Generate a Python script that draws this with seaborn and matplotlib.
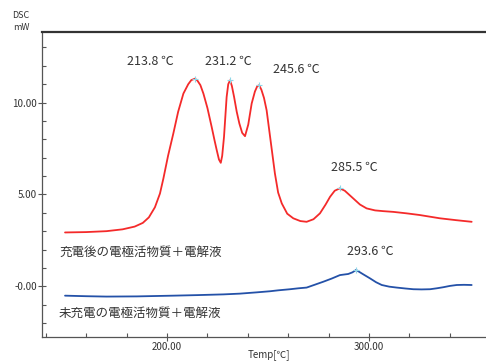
import matplotlib
matplotlib.use("Agg")
import matplotlib.pyplot as plt
import seaborn as sns
import pandas as pd
from matplotlib.ticker import MultipleLocator, FormatStrFormatter

# DSC curve after charging (temperature [℃], heat flow [mW])
charged_temp = [149.5, 160, 170, 178, 184, 188, 191, 194, 196.5, 198.2, 200.5, 203.1,
                205.5, 208.1, 210.5, 212.0, 213.8, 215.0, 216.5, 218, 220, 222.1,
                223.5, 224.6, 225.7, 226.6, 227.3, 228.2, 228.9, 229.5, 230.3, 231.2,
                232.1, 233.2, 234.5, 235.8, 237.2, 238.6, 240.2, 241.9, 243.5, 244.7,
                245.6, 246.7, 248, 249.3, 251.3, 253.4, 255, 256.8, 259.5, 262.5,
                266, 269.1, 272.5, 275.7, 278.5, 280.7, 283, 285.5, 288, 292.2,
                295.5, 298.8, 303, 307, 312, 318.6, 325, 335.1, 343, 350.8]
charged_dsc = [2.93, 2.95, 3.0, 3.1, 3.25, 3.45, 3.75, 4.3, 5.05, 5.87, 7.1, 8.31,
               9.5, 10.49, 11.0, 11.22, 11.30, 11.2, 10.95, 10.49, 9.7, 8.67,
               7.95, 7.41, 6.9, 6.72, 7.1, 8.13, 9.3, 10.3, 11.0, 11.21,
               10.9, 10.3, 9.5, 8.86, 8.35, 8.17, 8.8, 9.95, 10.6, 10.9,
               10.94, 10.7, 10.25, 9.58, 7.9, 6.14, 5.1, 4.51, 3.95, 3.70,
               3.55, 3.51, 3.65, 3.97, 4.45, 4.87, 5.2, 5.33, 5.2, 4.78,
               4.45, 4.24, 4.13, 4.09, 4.05, 3.97, 3.88, 3.70, 3.6, 3.51]

# DSC curve before charging
uncharged_temp = [149.5, 160, 170, 185, 203, 215, 228, 236, 244.4, 251, 255, 260.9,
                  265, 269.1, 273, 277.4, 281.5, 285.6, 289.7, 291.8, 293.6, 297,
                  300.5, 303.5, 306.3, 310, 313.7, 318, 321.9, 326, 330.2, 333.5,
                  336.8, 340, 343.4, 347, 350.8]
uncharged_dsc = [-0.51, -0.54, -0.56, -0.55, -0.51, -0.48, -0.44, -0.40, -0.33, -0.27,
                 -0.22, -0.16, -0.11, -0.07, 0.08, 0.25, 0.42, 0.61, 0.67, 0.76, 0.89,
                 0.66, 0.43, 0.22, 0.07, -0.02, -0.07, -0.12, -0.16, -0.17, -0.16,
                 -0.11, -0.05, 0.02, 0.07, 0.08, 0.07]

# Annotated peaks and where their labels sit (temperature, mW)
charged_peaks = [213.8, 231.2, 245.6, 285.5]
charged_peak_vals = [11.30, 11.21, 10.94, 5.33]
charged_label_pos = [(191.6, 12.24), (230.4, 12.21), (264.1, 11.81), (292.5, 6.45)]
uncharged_peaks = [293.6]
uncharged_peak_vals = [0.89]
uncharged_label_pos = [(300.4, 1.88)]

label_charged = "充電後の電極活物質＋電解液"
label_uncharged = "未充電の電極活物質＋電解液"

sns.set_style("white")
plt.rcParams["font.family"] = ["Noto Sans CJK JP", "DejaVu Sans"]

fig = plt.figure(figsize=(4.86, 3.61), dpi=100)
ax = fig.add_axes([42 / 486, 1 - 337 / 361, 1 - 42 / 486, (337 - 32) / 361])

df_c = pd.DataFrame({"temp": charged_temp, "dsc": charged_dsc})
df_u = pd.DataFrame({"temp": uncharged_temp, "dsc": uncharged_dsc})
sns.lineplot(data=df_c, x="temp", y="dsc", ax=ax, color="#f42a2a", lw=1.3, sort=False)
sns.lineplot(data=df_u, x="temp", y="dsc", ax=ax, color="#2451a8", lw=1.3, sort=False)

# peak markers and labels
ax.plot(charged_peaks, charged_peak_vals, "+", color="#8fd8e8", ms=4, mew=0.8)
ax.plot(uncharged_peaks, uncharged_peak_vals, "+", color="#8fd8e8", ms=4, mew=0.8)
for t, (lx, ly) in zip(charged_peaks + uncharged_peaks,
                       charged_label_pos + uncharged_label_pos):
    ax.text(lx, ly, f"{t:.1f} ℃", ha="center", va="center",
            fontsize=9, color="#333333")

ax.text(146.5, 1.83, label_charged, ha="left", va="center", fontsize=9, color="#333333")
ax.text(146.5, -1.5, label_uncharged, ha="left", va="center", fontsize=9, color="#333333")

ax.set_xlim(138.1, 357.9)
ax.set_ylim(-2.76, 13.84)
ax.xaxis.set_major_locator(MultipleLocator(100))
ax.xaxis.set_minor_locator(MultipleLocator(20))
ax.yaxis.set_minor_locator(MultipleLocator(1))
ax.xaxis.set_major_formatter(FormatStrFormatter("%.2f"))
ax.set_yticks([0, 5, 10])
ax.set_yticklabels(["-0.00", "5.00", "10.00"])

ax.tick_params(axis="both", which="major", direction="inout", length=6, width=0.8,
               color="#555555", labelsize=7, labelcolor="#333333", pad=0.5)
ax.tick_params(axis="both", which="minor", direction="in", length=3, width=0.8,
               color="#555555")
ax.tick_params(left=True, bottom=True, which="both")

ax.spines["right"].set_visible(False)
ax.spines["top"].set_color("#333333")
ax.spines["top"].set_linewidth(1.6)
for side in ["left", "bottom"]:
    ax.spines[side].set_color("#555555")
    ax.spines[side].set_linewidth(0.9)

ax.set_xlabel("")
ax.set_ylabel("")
fig.text(269 / 486, 1 - 355 / 361, "Temp[℃]", ha="center", va="center", fontsize=7,
         color="#333333")
fig.text(29 / 486, 1 - 16 / 361, "DSC", ha="right", va="center", fontsize=6.5,
         color="#333333")
fig.text(29 / 486, 1 - 27.5 / 361, "mW", ha="right", va="center", fontsize=6.5,
         color="#333333")

fig.savefig("out.png", dpi=100)
